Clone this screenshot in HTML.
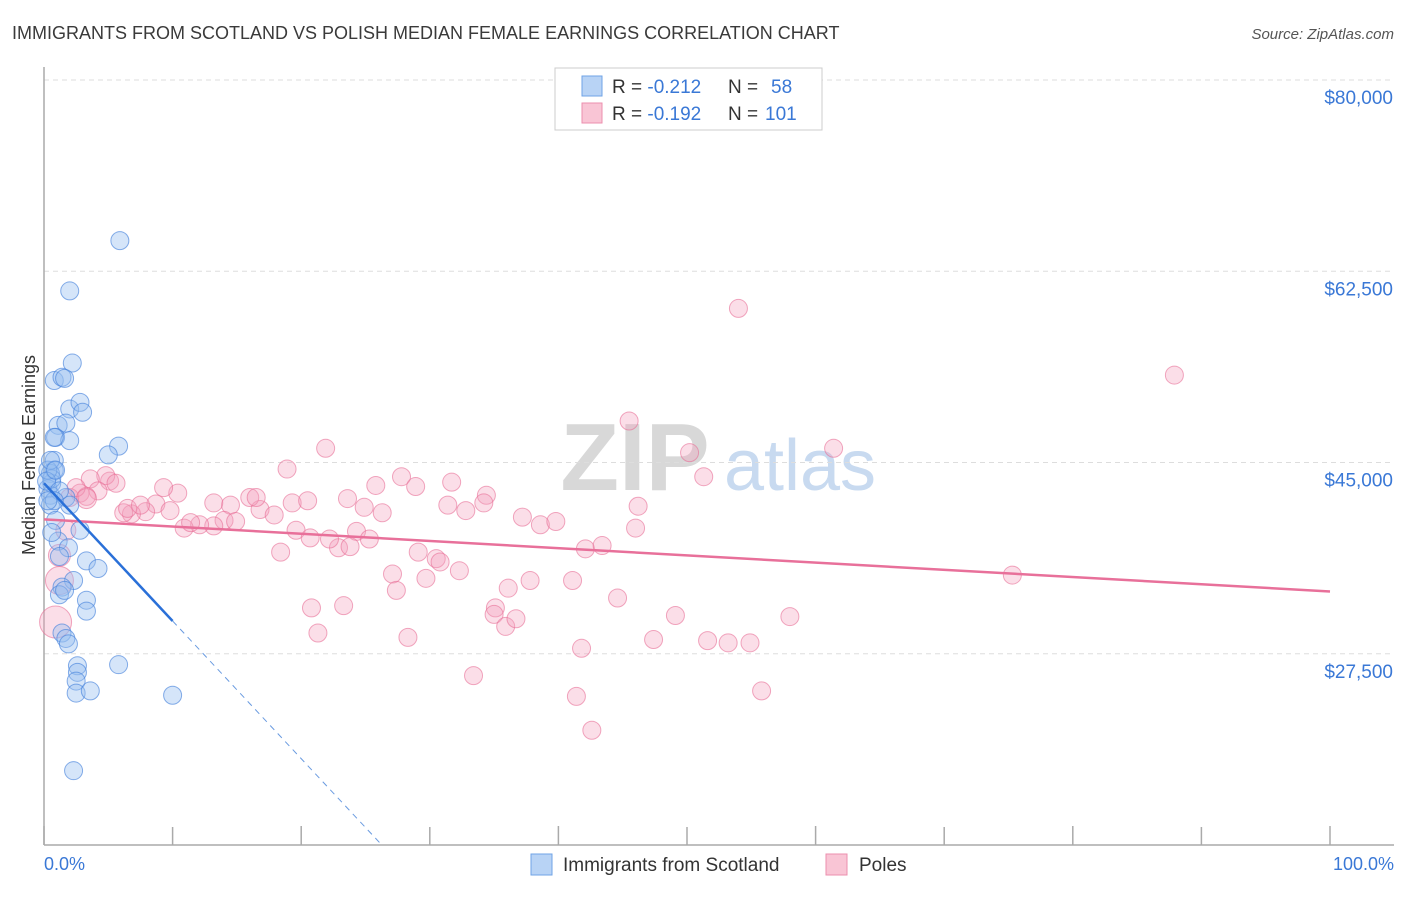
<!DOCTYPE html>
<html><head><meta charset="utf-8">
<style>
body{margin:0;background:#fff;font-family:"Liberation Sans",sans-serif;}
svg text{font-family:"Liberation Sans",sans-serif;}
</style></head>
<body>
<svg width="1406" height="892" viewBox="0 0 1406 892" xmlns="http://www.w3.org/2000/svg">
<text x="12" y="39" font-size="18" fill="#3a3a3a">IMMIGRANTS FROM SCOTLAND VS POLISH MEDIAN FEMALE EARNINGS CORRELATION CHART</text>
<text x="1394" y="39" font-size="15" fill="#555" font-style="italic" text-anchor="end">Source: ZipAtlas.com</text>
<g>
<text x="635" y="490" font-size="96" fill="#d8d8d8" font-family="Liberation Serif" font-weight="bold" text-anchor="middle">ZIP</text>
<text x="800" y="490" font-size="72" fill="#c8daf0" text-anchor="middle">atlas</text>
</g>
<g id="grid"></g>
<g id="axes"></g>
<g id="pts"></g>
<g id="lines"></g>
<text transform="translate(35,455) rotate(-90)" font-size="18" fill="#333" text-anchor="middle">Median Female Earnings</text>
<text x="44" y="870" font-size="18" fill="#3a78d6">0.0%</text>
<text x="1394" y="870" font-size="18" fill="#3a78d6" text-anchor="end">100.0%</text>
<g>
<rect x="555" y="68" width="267" height="62" fill="#fff" stroke="#ccc"/>
<rect x="582" y="76" width="20" height="20" fill="#b8d3f5" stroke="#6fa3e6"/>
<rect x="582" y="103" width="20" height="20" fill="#f9c5d5" stroke="#ec8fae"/>
<text x="612" y="93" font-size="19" fill="#333">R = <tspan fill="#3a78d6">-0.212</tspan><tspan x="728">N = </tspan><tspan x="771" fill="#3a78d6">58</tspan></text>
<text x="612" y="120" font-size="19" fill="#333">R = <tspan fill="#3a78d6">-0.192</tspan><tspan x="728">N = </tspan><tspan x="765" fill="#3a78d6">101</tspan></text>
</g>
<g>
<rect x="531" y="854" width="21" height="21" fill="#b8d3f5" stroke="#6fa3e6"/>
<text x="563" y="871" font-size="19" fill="#333">Immigrants from Scotland</text>
<rect x="826" y="854" width="21" height="21" fill="#f9c5d5" stroke="#ec8fae"/>
<text x="859" y="871" font-size="19" fill="#333">Poles</text>
</g>
</svg>
<script>
const yTicks=[80000,62500,45000,27500];
const yTickLabels=["$80,000","$62,500","$45,000","$27,500"];
const xTicks=[0,10,20,30,40,50,60,70,80,90,100];
const blueX=[5.9,2.0,2.2,0.8,1.4,1.6,2.0,2.8,3.0,1.1,0.9,1.7,2.0,0.8,5.8,5.0,0.8,0.8,0.5,0.6,0.3,0.5,0.6,1.7,2.0,0.5,0.9,2.8,1.1,1.9,3.3,1.2,4.2,2.3,1.4,1.2,3.3,3.3,1.4,1.7,1.9,2.6,2.6,2.5,2.5,3.6,5.8,10.0,2.3,0.3,0.2,0.5,0.9,1.2,0.6,1.6,0.8,0.3];
const blueY=[65.3,60.7,54.1,52.5,52.8,52.7,49.9,50.5,49.6,48.4,47.3,48.6,47.0,47.3,46.5,45.7,45.2,44.3,44.0,43.1,42.6,42.0,43.5,41.8,41.1,41.1,39.7,38.8,37.8,37.2,36.0,36.4,35.3,34.2,33.6,32.9,32.4,31.4,29.4,28.9,28.4,26.4,25.8,25.0,23.9,24.1,26.5,23.7,16.8,44.3,43.3,45.2,44.3,42.4,38.6,33.3,41.5,41.5];
const pinkX=[54.0,87.9,45.5,21.9,61.4,50.2,18.9,27.8,28.9,31.7,34.4,34.2,31.4,32.8,37.2,38.6,39.8,46.2,46.0,51.3,25.8,23.6,24.9,26.3,24.3,25.3,22.9,23.8,19.3,20.5,19.6,16.8,17.9,16.0,16.5,14.5,13.2,14.0,14.9,13.2,12.1,10.9,11.4,10.4,9.3,8.7,9.8,7.9,6.8,6.2,6.5,7.5,5.1,4.8,5.6,3.6,4.2,2.8,3.3,2.0,2.5,18.4,20.7,22.2,29.1,29.7,30.5,30.8,32.3,27.1,27.4,36.1,37.8,41.1,42.1,43.4,44.6,20.8,23.3,21.3,28.3,35.1,35.0,35.9,36.7,41.8,47.4,49.1,51.6,53.2,54.9,58.0,33.4,41.4,42.6,55.8,75.3,0.9,1.2,1.2,1.7,3.3];
const pinkY=[59.1,53.0,48.8,46.3,46.3,45.9,44.4,43.7,42.8,43.2,42.0,41.3,41.1,40.6,40.0,39.3,39.6,41.0,39.0,43.7,42.9,41.7,40.9,40.4,38.7,38.0,37.2,37.3,41.3,41.5,38.8,40.7,40.2,41.8,41.8,41.1,41.3,39.7,39.6,39.2,39.3,39.0,39.5,42.2,42.7,41.2,40.6,40.5,40.3,40.4,40.8,41.1,43.3,43.8,43.1,43.5,42.4,42.2,41.9,41.8,42.7,36.8,38.1,38.0,36.8,34.4,36.2,35.9,35.1,34.8,33.3,33.5,34.2,34.2,37.1,37.4,32.6,31.7,31.9,29.4,29.0,31.7,31.1,30.0,30.7,28.0,28.8,31.0,28.7,28.5,28.5,30.9,25.5,23.6,20.5,24.1,34.7,30.4,34.2,36.5,38.8,41.7];
const pinkR=[9,9,9,9,9,9,9,9,9,9,9,9,9,9,9,9,9,9,9,9,9,9,9,9,9,9,9,9,9,9,9,9,9,9,9,9,9,9,9,9,9,9,9,9,9,9,9,9,9,9,9,9,9,9,9,9,9,9,9,9,9,9,9,9,9,9,9,9,9,9,9,9,9,9,9,9,9,9,9,9,9,9,9,9,9,9,9,9,9,9,9,9,9,9,9,9,9,16,14,11,10,10];
const blueTrend=[43.1,-1.26];
const pinkTrend=[39.8,-0.066];

const NS="http://www.w3.org/2000/svg";
const X0=44,X1=1330,YT=80,YB=845,VMAX=80000,VMIN=10000;
function sx(p){return X0+(X1-X0)*p/100;}
function sy(v){return YT+(VMAX-v)*(YB-YT)/(VMAX-VMIN);}
function mk(tag,attrs,parent){const e=document.createElementNS(NS,tag);for(const k in attrs)e.setAttribute(k,attrs[k]);parent.appendChild(e);return e;}
const grid=document.getElementById('grid'),axes=document.getElementById('axes'),pts=document.getElementById('pts'),lines=document.getElementById('lines');
yTicks.forEach((v,i)=>{
 const l=mk('line',{x1:X0,x2:1394,y1:sy(v),y2:sy(v),stroke:'#ddd','stroke-dasharray':'5,4'},grid);
 
 
 const t=mk('text',{x:1393,y:sy(v)+24,'font-size':19,fill:'#3a78d6','text-anchor':'end'},grid);
 t.textContent=yTickLabels[i];
 
 
});
const ya=mk('line',{x1:X0,x2:X0,y1:67,y2:YB,stroke:'#aaa','stroke-width':1.5},axes);


const xa=mk('line',{x1:X0,x2:1394,y1:YB,y2:YB,stroke:'#aaa','stroke-width':1.5},axes);


xTicks.forEach((p,i)=>{
 const t=mk('line',{x1:sx(p),x2:sx(p),y1:(i%2==0)?826:827,y2:YB,stroke:'#aaa','stroke-width':1.5},axes);
 
 
});
pinkX.forEach((p,i)=>{
 const c=mk('circle',{cx:sx(p),cy:sy(pinkY[i]*1000),r:pinkR[i],fill:'rgba(244,160,188,0.35)',stroke:'rgba(232,110,150,0.6)','stroke-width':1},pts);
 
 
});
blueX.forEach((p,i)=>{
 const c=mk('circle',{cx:sx(p),cy:sy(blueY[i]*1000),r:9,fill:'rgba(150,190,240,0.4)',stroke:'rgba(70,130,220,0.65)','stroke-width':1},pts);
 
 
});
function tv(t,p){return (t[0]+t[1]*p)*1000;}
const pl=mk('line',{x1:sx(0),y1:sy(tv(pinkTrend,0)),x2:sx(100),y2:sy(tv(pinkTrend,100)),stroke:'#e8709a','stroke-width':2.5},lines);


const bl=mk('line',{x1:sx(0),y1:sy(tv(blueTrend,0)),x2:sx(10),y2:sy(tv(blueTrend,10)),stroke:'#2a70d8','stroke-width':2.5},lines);


const pEnd=(blueTrend[0]-VMIN/1000)/(-blueTrend[1]);
const bd=mk('line',{x1:sx(10),y1:sy(tv(blueTrend,10)),x2:sx(pEnd),y2:sy(tv(blueTrend,pEnd)),stroke:'#6a9be0','stroke-width':1,'stroke-dasharray':'6,5'},lines);


</script>
</body></html>
